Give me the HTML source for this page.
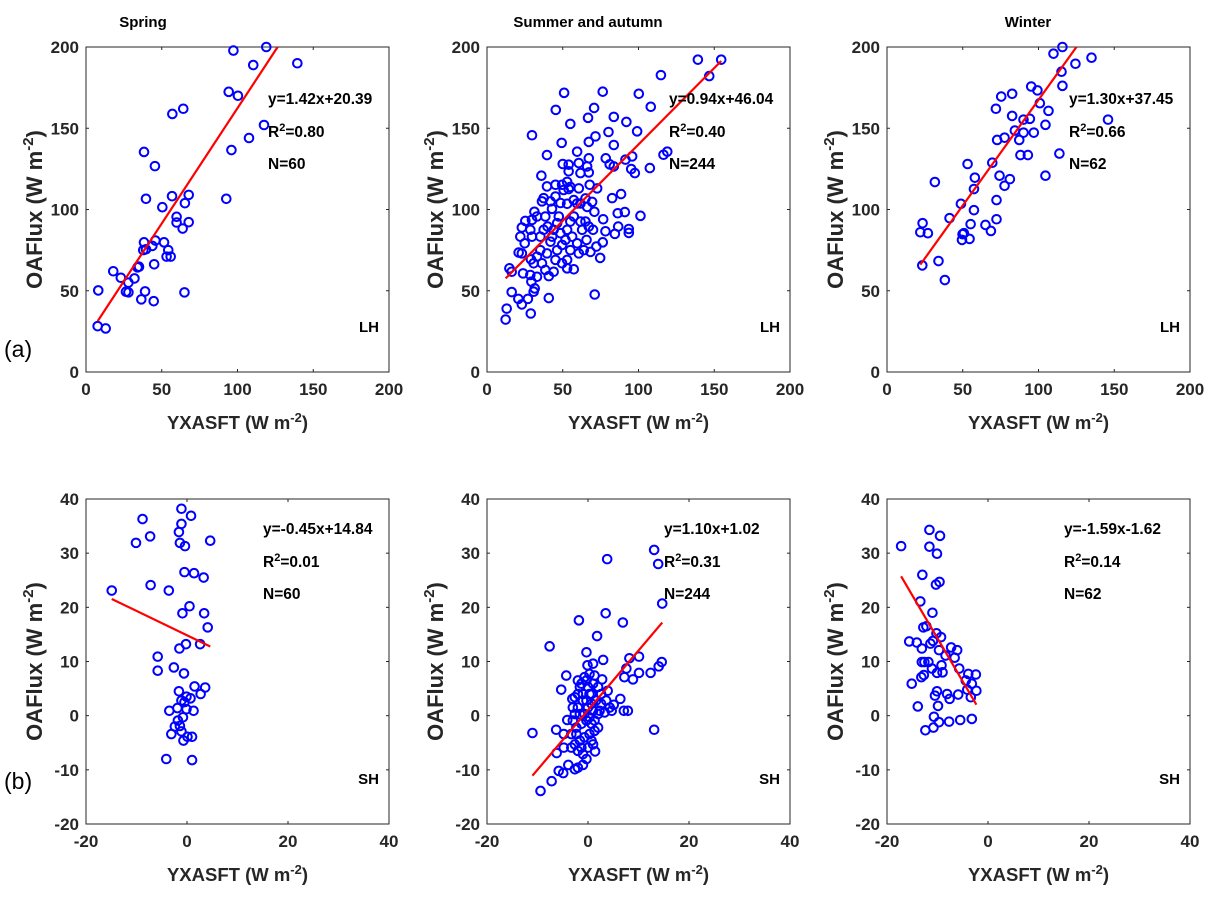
<!DOCTYPE html>
<html><head><meta charset="utf-8"><style>
html,body{margin:0;padding:0;background:#fff}
svg{display:block;font-family:"Liberation Sans",Arial,sans-serif}
</style></head><body>
<svg id="fig" width="1210" height="897" viewBox="0 0 1210 897">
<text x="143" y="27" font-size="15" font-weight="bold" text-anchor="middle" fill="#000">Spring</text>
<text x="588" y="27" font-size="15" font-weight="bold" text-anchor="middle" fill="#000">Summer and autumn</text>
<text x="1028" y="27" font-size="15" font-weight="bold" text-anchor="middle" fill="#000">Winter</text>
<text x="4" y="357" font-size="23" fill="#000">(a)</text>
<text x="4" y="789" font-size="23" fill="#000">(b)</text>
</svg>
<script>
// ---- data ----
const springLH_x=[8.1,7.7,13,18,23,28,32,26.4,28,34,35,36.5,39,38.3,37.8,39.6,43.8,45.8,44.7,45,38.3,45.5,39.6,50.4,56.8,51.5,54.3,53.2,55.9,59.8,59.8,63.8,65.3,67.8,67.8,65,57,64.2,92.6,96,94.2,100.3,97.3,107.6,110.4,117.5,119,139.5];
const springLH_y=[50.2,28.2,26.8,62,58,55,57.6,49.4,49,64.4,64.8,44.7,49.6,79.8,75,75.5,77.6,80.9,43.6,66.3,135.4,126.7,106.6,101.4,108.2,79.8,75,71,71,95.5,92,88.3,103.9,109,92.2,49,158.8,162,106.6,136.6,172.4,170,197.8,144,188.9,152,200,190];
const summerLH_x=[12.3,13,16.3,20.7,23,27,28.9,40.8,71.1,14.8,16.3,23.8,28.6,29.3,30.8,31.5,33,20.9,23,24.9,22,23,25.3,29.7,31.3,33,28.6,29.7,29,30.8,33,35.2,35.2,37.4,38.5,40,41.9,39.6,36.3,38.5,40.8,44,45.2,46.3,43,44,46.3,47.4,48.5,49.6,49.6,52.9,57.3,52.9,55,51.8,52.9,55,57.3,56.2,59.5,60.6,63.9,65.7,62.8,61.7,65,67.2,68.3,70,70.9,69.4,66.1,65,61.7,59.5,57.3,60.6,53.9,50.6,52.9,55,49.6,45.2,39.6,37.4,36.3,41.9,45.2,48.5,52.9,42.9,35.9,39.6,29.7,45.4,50.9,49.3,55,59.5,50,53.9,53.9,60.6,61.7,66.1,67.2,67.2,66.7,70.7,71.6,67.2,67.8,72.7,76.7,78.2,76.4,72.2,74.7,76.4,78.4,80.2,83.7,83.7,81,83.7,82.6,84.4,86.3,86.6,88.5,91,91.4,92,93.6,93.6,95.2,95.8,97.6,99.1,100.2,101.3,107.5,108.1,114.8,116.5,119,139.2,146.7,154.6];
const summerLH_y=[32.3,39,49.2,45,41.6,45,36,45.5,47.7,63.8,61.7,60.7,59.7,55.6,49.4,51.4,58.6,73.5,73,79.2,83.3,88.9,93,93.6,98.6,95.7,87.5,83.3,69.3,66.9,71,75,83.3,87.5,95.7,89.5,80.2,73,66.9,62.8,59,61.7,69,75,83.3,87.5,91.6,95.7,85.4,78.2,66.9,63.8,63.2,69,75,81.3,87.5,92.6,95.7,83.3,79.2,73,75,81.3,87.5,92.6,92.6,89.5,73.9,87.5,98.6,104.7,101.6,106.8,103.7,103.7,105.8,113,112.6,112,117,113.9,115.2,115.2,114.2,107,105,105,108,104,103.5,100.4,120.8,133.5,145.7,161.3,171.8,141,152.7,135.6,128,127.6,123.5,128.6,122.4,126.5,131.5,141.6,156.4,162.5,145,122.8,115.2,113,94,86.6,79.8,77.2,70.2,172.5,131.5,147.7,157,139.7,127.8,126.5,107,85,97.7,89.5,109.5,98.4,130.7,153.9,88,85.6,124.9,132.7,122.4,148.1,171.2,96.1,125.5,163.2,182.7,133.7,135.6,192.2,182.1,192.2];
const winterLH_x=[23.3,22,27,23.5,34,38.2,31.6,41.3,48.8,49.9,50.8,49.5,54.5,55.2,57.4,57.4,58,53.2,65,68.6,72.3,72.3,69.5,74.3,77.6,81.1,72.7,77.6,87.3,84.4,88.1,93,90.1,96.9,90.1,94.3,82.6,71.9,75.4,82.6,95.2,99.3,100.9,106.6,104.6,104.6,113.8,115.8,115.2,109.9,115.8,124.4,135,145.9];
const winterLH_y=[65.6,86,85.4,91.6,68.3,56.6,116.9,94.7,103.5,84.8,85.4,81.3,81.9,91,99.6,112.6,119.6,128,90.5,86.8,94,105.8,128.8,120.8,114.6,118.7,142.8,144.2,142.8,148.6,133.5,133.5,147.3,147.3,155.3,155.8,157.6,162,169.5,171.2,175.7,173.3,165.4,160.7,152.1,120.8,134.4,176.1,184.8,195.9,200,189.7,193.4,155.3];
const springSH_x=[-14.9,-10.1,-8.8,-7.3,-7.2,-3.6,-1.1,0.8,-1.1,-1.6,-1.4,-0.4,4.6,-0.5,1.4,3.3,0.5,-0.9,3.4,4.1,-0.2,-1.5,2.6,-5.8,-5.8,-2.6,-0.6,1.5,3.6,-1.6,2.7,-0.1,0.7,-1.1,-0.5,-1.9,-3.5,1.3,-0.1,-0.8,-1.8,-2.4,-1.4,-3.1,-1.1,0.1,1,-0.7,-4.1,1];
const springSH_y=[23.1,31.9,36.3,33.1,24.1,23.1,38.2,36.9,35.4,33.9,31.9,31.3,32.3,26.5,26.3,25.5,20.2,18.9,18.9,16.3,13.2,12.4,13.2,10.9,8.3,8.9,7.8,5.4,5.2,4.5,4,3.5,3.2,2.8,2.5,1.4,0.9,0.9,1.2,-0.3,-0.9,-2,-1.9,-3.4,-2.9,-3.9,-3.9,-4.6,-8,-8.2];
const summerSH_x=[-11,-9.4,-7.2,-7.6,-6.3,-6.2,-5.8,-4.9,-3.9,-4.8,-4.8,-4.1,-5.3,-4.3,-3.1,-1.8,-0.3,-0.1,1,1.8,3.5,3.8,3,2.8,6.9,6.4,8.2,7.6,7.2,8.9,10.1,10.1,12.4,14,14.6,14.7,13.1,13.9,13.1,4.7,5.1,7.1,7.9,-2,-1.6,-0.7,0.3,1.3,2,2.6,3.9,3.6,4.3,3.3,2,1,0,-1,-2,-2.6,-3,-2.3,-1.3,-0.3,0.7,1.3,0.3,-0.7,-1.6,-2.6,-2,-1,0,1,1.4,-0.3,-1,-2,-2.6,-3.3,-3.3,-3,-2,-1,0,0.7,-0.3,0.7,1.6,2.6,2.3,-0.7,0.3,-1.6,-2.3,0.7,-1.3,-0.3,1,0.3,-1.3,-2.6,1.3,2];
const summerSH_y=[-3.2,-13.9,-12.1,12.8,-2.6,-6.9,-10.2,-10.6,-9.1,-5.9,-3.4,-0.8,4.8,7.4,3.1,17.6,11.7,9.3,9.6,14.7,18.9,28.9,10.3,6.7,17.2,3.1,10.6,8.7,7.1,6.7,10.9,7.9,7.9,9.1,9.9,20.7,30.6,28,-2.6,0.9,2,0.9,0.9,6.5,5.3,7.1,7.7,7.4,5.3,4,4.6,2.8,1.5,0.6,0.3,0.9,1.5,2.8,1.5,0.3,-0.9,-2.2,-1.5,-0.9,-1.5,-2.8,-3.4,-4,-4.6,-5.3,-6.5,-7.1,-5.9,-5.3,-6.6,-8,-9.1,-9.6,-9.9,-5.9,-3.4,1.5,4,4,5.3,4,2.8,2.2,2.8,2.2,0.9,0.3,-0.3,0.3,-3.4,-4.6,-5.9,6.5,5.9,4,5.9,3.4,-0.9,-2.2];
const winterSH_x=[-17.2,-11.6,-9.5,-11.6,-10.1,-13,-10.3,-9.6,-13.4,-11,-12.8,-12.2,-10.2,-9.3,-15.6,-14.1,-13.1,-11.4,-10.9,-9.7,-8.4,-7.3,-6.1,-6.6,-13.1,-12.6,-11.8,-11.1,-10.1,-9.2,-9,-5.7,-13.2,-12.7,-15.1,-3.9,-2.4,-3.2,-4.4,-4.1,-2.3,-3.4,-5.9,-7.6,-8.1,-10.1,-10.5,-13.9,-9.9,-10.7,-9.7,-7.7,-10.8,-12.4,-5.5,-3.2];
const winterSH_y=[31.3,34.3,33.2,31.2,29.9,26,24.2,24.7,21.1,19,16.3,16.5,15.2,14.5,13.7,13.5,12.4,13.3,13.8,12.1,11.1,12.6,12.1,10.7,9.9,9.9,9.9,8.7,7.9,9.3,8,8.7,7.1,7.5,5.9,7.7,7.6,5.9,6.5,4.8,4.6,3.4,3.9,3.1,4,4.5,3.7,1.7,1.8,-0.2,-1.2,-1.1,-2.2,-2.7,-0.8,-0.6];
const fitSlopes=[1.42,0.94,1.30,-0.45,1.10,-1.59];
const fitIntercepts=[20.39,46.04,37.45,14.84,1.02,-1.62];
const fitLabels=["y=1.42x+20.39","y=0.94x+46.04","y=1.30x+37.45","y=-0.45x+14.84","y=1.10x+1.02","y=-1.59x-1.62"];
const r2Labels=["0.80","0.40","0.66","0.01","0.31","0.14"];
const nLabels=["N=60","N=244","N=62","N=60","N=244","N=62"];
const topTicks=[0,50,100,150,200];
const botYTicks=[-20,-10,0,10,20,30,40];
const botXTicks=[-20,0,20,40];

const NS="http://www.w3.org/2000/svg";
const svg=document.getElementById('fig');
function mk(tag,attrs,parent){const e=document.createElementNS(NS,tag);for(const k in attrs)e.setAttribute(k,attrs[k]);(parent||svg).appendChild(e);return e;}

const panels=[
 {L:86,T:47,xs:springLH_x,ys:springLH_y,xd:[0,200],yd:[0,200],xt:topTicks,yt:topTicks,tag:"LH",name:"spring-lh"},
 {L:487,T:47,xs:summerLH_x,ys:summerLH_y,xd:[0,200],yd:[0,200],xt:topTicks,yt:topTicks,tag:"LH",name:"summer-lh"},
 {L:887,T:47,xs:winterLH_x,ys:winterLH_y,xd:[0,200],yd:[0,200],xt:topTicks,yt:topTicks,tag:"LH",name:"winter-lh"},
 {L:86,T:499,xs:springSH_x,ys:springSH_y,xd:[-20,40],yd:[-20,40],xt:botXTicks,yt:botYTicks,tag:"SH",name:"spring-sh"},
 {L:487,T:499,xs:summerSH_x,ys:summerSH_y,xd:[-20,40],yd:[-20,40],xt:botXTicks,yt:botYTicks,tag:"SH",name:"summer-sh"},
 {L:887,T:499,xs:winterSH_x,ys:winterSH_y,xd:[-20,40],yd:[-20,40],xt:botXTicks,yt:botYTicks,tag:"SH",name:"winter-sh"}
];
const W=303,H=325;
panels.forEach((p,i)=>{
 const g=mk('g',{});
 
 
 const sx=v=>p.L+(v-p.xd[0])/(p.xd[1]-p.xd[0])*W;
 const sy=v=>p.T+H-(v-p.yd[0])/(p.yd[1]-p.yd[0])*H;
 const box=mk('rect',{x:p.L,y:p.T,width:W,height:H,fill:'none',stroke:'#262626','stroke-width':1},g);
 
 
 p.yt.forEach(t=>{
  const y=sy(t);
  mk('line',{x1:p.L,x2:p.L+3,y1:y,y2:y,stroke:'#262626'},g);
  mk('line',{x1:p.L+W-3,x2:p.L+W,y1:y,y2:y,stroke:'#262626'},g);
  const tx=mk('text',{x:p.L-7,y:y+6,'font-size':17,'font-weight':'bold','text-anchor':'end',fill:'#262626'},g);
  tx.textContent=t;
  
  
 });
 p.xt.forEach(t=>{
  const x=sx(t);
  mk('line',{x1:x,x2:x,y1:p.T+H,y2:p.T+H-3,stroke:'#262626'},g);
  mk('line',{x1:x,x2:x,y1:p.T,y2:p.T+3,stroke:'#262626'},g);
  const tx=mk('text',{x:x,y:p.T+H+23,'font-size':17,'font-weight':'bold','text-anchor':'middle',fill:'#262626'},g);
  tx.textContent=t;
  
  
 });
 // axis titles
 const yl=mk('text',{transform:`translate(${p.L-44},${p.T+H/2}) rotate(-90)`,'font-size':22,'font-weight':'bold','text-anchor':'middle',fill:'#262626'},g);
 yl.innerHTML='OAFlux (W m<tspan dy="-9" font-size="15">-2</tspan><tspan dy="9">)</tspan>';
 
 
 const xl=mk('text',{x:p.L+W/2,y:p.T+H+57,'font-size':18.5,'font-weight':'bold','text-anchor':'middle',fill:'#262626'},g);
 xl.innerHTML='YXASFT (W m<tspan dy="-7" font-size="13">-2</tspan><tspan dy="7">)</tspan>';
 
 
 // points
 p.xs.forEach((xv,j)=>{
  const c=mk('circle',{cx:sx(xv),cy:sy(p.ys[j]),r:4.3,fill:'none',stroke:'#0000ff','stroke-width':2},g);
  
  
 });
 // fit line clipped
 const a=fitSlopes[i],b=fitIntercepts[i];
 let x1=Math.min(...p.xs),x2=Math.max(...p.xs);
 const clip=x=>{let y=a*x+b;if(y>p.yd[1]){x=(p.yd[1]-b)/a;y=p.yd[1];}if(y<p.yd[0]){x=(p.yd[0]-b)/a;y=p.yd[0];}return [x,y];};
 const P1=clip(x1),P2=clip(x2);
 const ln=mk('line',{x1:sx(P1[0]),y1:sy(P1[1]),x2:sx(P2[0]),y2:sy(P2[1]),stroke:'#ff0000','stroke-width':2.2},g);
 
 
 // annotations
 const ax=i<3?p.L+182:p.L+177;
 const ay=i<3?p.T+57:p.T+35;
 const t1=mk('text',{x:ax,y:ay,'font-size':15.5,'font-weight':'bold',fill:'#000'},g);
 t1.textContent=fitLabels[i];
 
 
 const t2=mk('text',{x:ax,y:ay+33,'font-size':15.5,'font-weight':'bold',fill:'#000'},g);
 t2.innerHTML='R<tspan dy="-6" font-size="11">2</tspan><tspan dy="6">='+r2Labels[i]+'</tspan>';
 
 
 const t3=mk('text',{x:ax,y:ay+65,'font-size':15.5,'font-weight':'bold',fill:'#000'},g);
 t3.textContent=nLabels[i];
 
 
 const t4=mk('text',{x:p.L+W-10,y:p.T+H-40,'font-size':15,'font-weight':'bold','text-anchor':'end',fill:'#000'},g);
 t4.textContent=p.tag;
 
 
});
</script>
</body></html>
